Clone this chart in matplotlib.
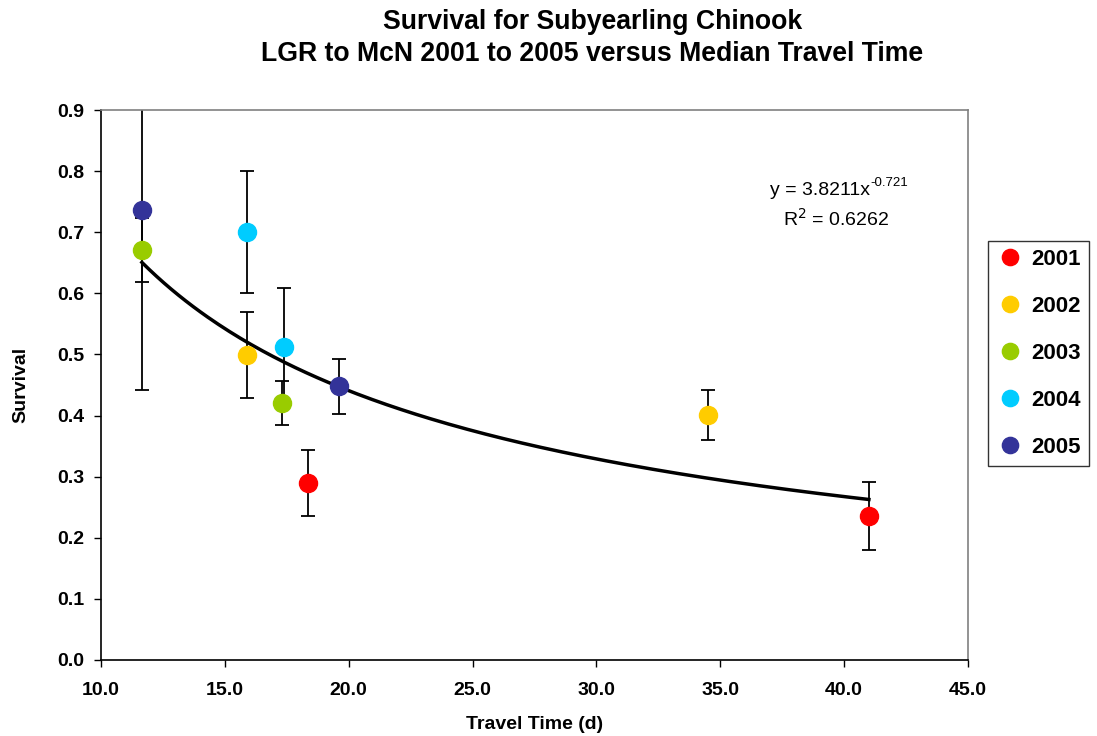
import numpy as np
import matplotlib
matplotlib.use("Agg")
import matplotlib.pyplot as plt

plt.rcParams['font.family'] = ['Liberation Sans', 'DejaVu Sans']

# data: travel time (d), survival, error half-width
years = ['2001', '2002', '2003', '2004', '2005']
colors = ['#FF0000', '#FFCC00', '#99CC00', '#00CCFF', '#333399']
travel = {
    '2001': [18.35, 41.0],
    '2002': [15.9, 34.5],
    '2003': [11.65, 17.3],
    '2004': [15.9, 17.4],
    '2005': [11.65, 19.6],
}
survival = {
    '2001': [0.290, 0.236],
    '2002': [0.499, 0.401],
    '2003': [0.671, 0.420],
    '2004': [0.701, 0.512],
    '2005': [0.737, 0.448],
}
errors = {
    '2001': [0.054, 0.056],
    '2002': [0.070, 0.041],
    '2003': [0.053, 0.036],
    '2004': [0.100, 0.097],
    '2005': [0.295, 0.045],
}

# power trendline shown on the chart
coef_a = 3.8211
coef_b = -0.721
r_squared = 0.6262

fig = plt.figure(figsize=(10.97, 7.36), dpi=100)
ax = fig.add_axes([0.0921, 0.1033, 0.7903, 0.7472])

for yr, c in zip(years, colors):
    ax.errorbar(travel[yr], survival[yr], yerr=errors[yr], fmt='none',
                ecolor='black', elinewidth=1.3, capsize=5, capthick=1.3, zorder=2)

all_x = np.concatenate([travel[yr] for yr in years])
xs = np.linspace(all_x.min(), all_x.max(), 200)
ax.plot(xs, coef_a * xs ** coef_b, color='black', lw=2.5, zorder=3)

for yr, c in zip(years, colors):
    ax.plot(travel[yr], survival[yr], 'o', color=c, ms=13, mec=c,
            label=yr, zorder=4, linestyle='none')

ax.set_xlim(10, 45)
ax.set_ylim(0, 0.9)
ax.set_xticks(np.arange(10, 46, 5))
ax.set_xticklabels([f'{v:.1f}' for v in np.arange(10, 46, 5)])
ax.set_yticks(np.arange(0, 0.91, 0.1))
ax.set_yticklabels([f'{v:.1f}' for v in np.arange(0, 0.91, 0.1)])
ax.tick_params(direction='out', length=5, width=1, labelsize=14)
ax.tick_params(axis='x', pad=11)
ax.tick_params(axis='y', pad=7)
for lab in ax.get_xticklabels() + ax.get_yticklabels():
    lab.set_fontweight('bold')

ax.spines['left'].set_color('black')
ax.spines['bottom'].set_color('black')
ax.spines['top'].set_color('#808080')
ax.spines['right'].set_color('#808080')
for s in ax.spines.values():
    s.set_linewidth(1.2)

ax.set_xlabel('Travel Time (d)', fontsize=14, fontweight='bold', labelpad=12)
ax.set_ylabel('Survival', fontsize=14, fontweight='bold', labelpad=20)

fig.text(0.54, 0.970, 'Survival for Subyearling Chinook', ha='center', va='center',
         fontsize=19.2, fontweight='bold')
fig.text(0.54, 0.927, 'LGR to McN 2001 to 2005 versus Median Travel Time', ha='center',
         va='center', fontsize=19.2, fontweight='bold')

# trendline equation, superscript drawn as its own text to keep the plain hyphen
ax.text(0.887, 0.8545, f'y = {coef_a}x', transform=ax.transAxes,
        ha='right', va='center', fontsize=14)
ax.text(0.887, 0.868, f'{coef_b}', transform=ax.transAxes,
        ha='left', va='center', fontsize=9.5)
ax.text(0.848, 0.803, f'R$^2$ = {r_squared}', transform=ax.transAxes,
        ha='center', va='center', fontsize=14)

leg = fig.legend(loc='upper left', bbox_to_anchor=(0.9006, 0.6726), frameon=True,
                 fancybox=False, edgecolor='black', prop={'weight': 'bold', 'size': 16},
                 handletextpad=0.3, labelspacing=1.17, borderpad=0.35, handlelength=1.3,
                 markerscale=0.9, borderaxespad=0)
leg.get_frame().set_linewidth(1)

fig.savefig('out.png', dpi=100)
